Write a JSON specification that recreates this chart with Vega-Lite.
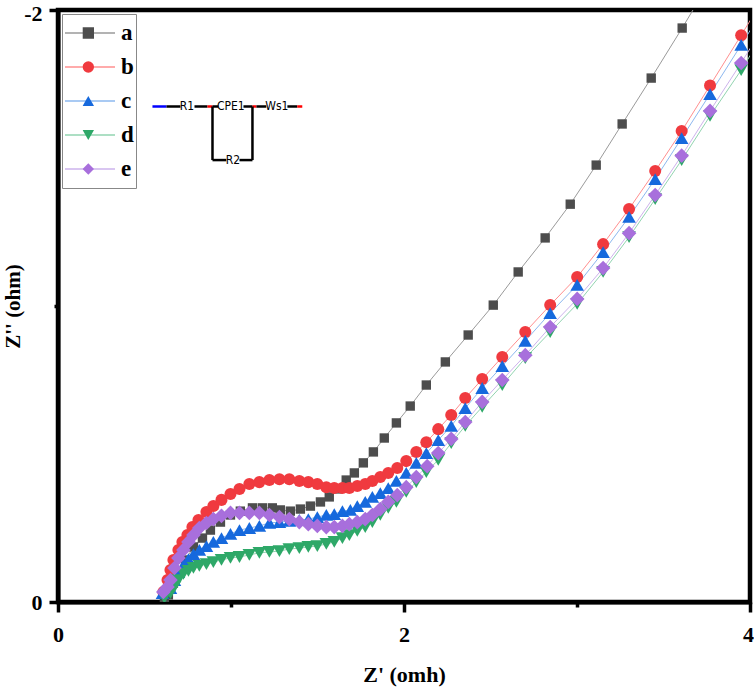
{
  "$schema": "https://vega.github.io/schema/vega-lite/v6.json",
  "description": "Nyquist plot of samples a to e with equivalent circuit inset.",
  "width": 692,
  "height": 592,
  "autosize": {"type": "none"},
  "padding": {"left": 58, "top": 10, "right": 4, "bottom": 89},
  "background": "white",
  "view": {"stroke": "black", "strokeWidth": 4.5},
  "datasets": {
    "curves": [
      {"s":"a","x":0.615,"y":-0.014},{"s":"a","x":0.638,"y":-0.024},{"s":"a","x":0.667,"y":-0.064},{"s":"a","x":0.696,"y":-0.101},{"s":"a","x":0.737,"y":-0.142},{"s":"a","x":0.783,"y":-0.186},{"s":"a","x":0.835,"y":-0.216},{"s":"a","x":0.881,"y":-0.243},{"s":"a","x":0.939,"y":-0.270},{"s":"a","x":0.997,"y":-0.294},{"s":"a","x":1.054,"y":-0.307},{"s":"a","x":1.124,"y":-0.318},{"s":"a","x":1.181,"y":-0.318},{"s":"a","x":1.239,"y":-0.318},{"s":"a","x":1.285,"y":-0.311},{"s":"a","x":1.343,"y":-0.307},{"s":"a","x":1.401,"y":-0.314},{"s":"a","x":1.459,"y":-0.324},{"s":"a","x":1.517,"y":-0.338},{"s":"a","x":1.568,"y":-0.355},{"s":"a","x":1.615,"y":-0.382},{"s":"a","x":1.666,"y":-0.412},{"s":"a","x":1.713,"y":-0.436},{"s":"a","x":1.765,"y":-0.470},{"s":"a","x":1.823,"y":-0.507},{"s":"a","x":1.886,"y":-0.554},{"s":"a","x":1.956,"y":-0.605},{"s":"a","x":2.036,"y":-0.662},{"s":"a","x":2.129,"y":-0.733},{"s":"a","x":2.239,"y":-0.811},{"s":"a","x":2.371,"y":-0.902},{"s":"a","x":2.516,"y":-1.003},{"s":"a","x":2.660,"y":-1.115},{"s":"a","x":2.816,"y":-1.230},{"s":"a","x":2.961,"y":-1.344},{"s":"a","x":3.111,"y":-1.476},{"s":"a","x":3.261,"y":-1.615},{"s":"a","x":3.429,"y":-1.770},{"s":"a","x":3.608,"y":-1.939},{"s":"a","x":3.798,"y":-2.125},
      {"s":"b","x":0.609,"y":-0.034},{"s":"b","x":0.633,"y":-0.074},{"s":"b","x":0.650,"y":-0.108},{"s":"b","x":0.667,"y":-0.142},{"s":"b","x":0.696,"y":-0.176},{"s":"b","x":0.719,"y":-0.203},{"s":"b","x":0.748,"y":-0.226},{"s":"b","x":0.777,"y":-0.253},{"s":"b","x":0.812,"y":-0.277},{"s":"b","x":0.858,"y":-0.304},{"s":"b","x":0.898,"y":-0.324},{"s":"b","x":0.945,"y":-0.345},{"s":"b","x":0.997,"y":-0.365},{"s":"b","x":1.049,"y":-0.382},{"s":"b","x":1.106,"y":-0.399},{"s":"b","x":1.164,"y":-0.405},{"s":"b","x":1.222,"y":-0.412},{"s":"b","x":1.280,"y":-0.415},{"s":"b","x":1.337,"y":-0.415},{"s":"b","x":1.395,"y":-0.409},{"s":"b","x":1.447,"y":-0.405},{"s":"b","x":1.499,"y":-0.399},{"s":"b","x":1.551,"y":-0.388},{"s":"b","x":1.597,"y":-0.385},{"s":"b","x":1.644,"y":-0.385},{"s":"b","x":1.684,"y":-0.385},{"s":"b","x":1.730,"y":-0.392},{"s":"b","x":1.776,"y":-0.399},{"s":"b","x":1.817,"y":-0.409},{"s":"b","x":1.863,"y":-0.422},{"s":"b","x":1.909,"y":-0.436},{"s":"b","x":1.961,"y":-0.453},{"s":"b","x":2.013,"y":-0.476},{"s":"b","x":2.071,"y":-0.507},{"s":"b","x":2.129,"y":-0.540},{"s":"b","x":2.198,"y":-0.584},{"s":"b","x":2.273,"y":-0.632},{"s":"b","x":2.354,"y":-0.689},{"s":"b","x":2.452,"y":-0.753},{"s":"b","x":2.568,"y":-0.828},{"s":"b","x":2.701,"y":-0.912},{"s":"b","x":2.845,"y":-1.003},{"s":"b","x":3.001,"y":-1.098},{"s":"b","x":3.151,"y":-1.209},{"s":"b","x":3.301,"y":-1.328},{"s":"b","x":3.452,"y":-1.456},{"s":"b","x":3.605,"y":-1.591},{"s":"b","x":3.769,"y":-1.745},{"s":"b","x":3.949,"y":-1.915},{"s":"b","x":4.145,"y":-2.101},
      {"s":"c","x":0.604,"y":-0.030},{"s":"c","x":0.650,"y":-0.047},{"s":"c","x":0.673,"y":-0.074},{"s":"c","x":0.696,"y":-0.101},{"s":"c","x":0.725,"y":-0.125},{"s":"c","x":0.754,"y":-0.145},{"s":"c","x":0.783,"y":-0.162},{"s":"c","x":0.817,"y":-0.176},{"s":"c","x":0.858,"y":-0.189},{"s":"c","x":0.898,"y":-0.203},{"s":"c","x":0.945,"y":-0.216},{"s":"c","x":0.997,"y":-0.230},{"s":"c","x":1.049,"y":-0.243},{"s":"c","x":1.106,"y":-0.250},{"s":"c","x":1.164,"y":-0.257},{"s":"c","x":1.222,"y":-0.267},{"s":"c","x":1.280,"y":-0.270},{"s":"c","x":1.337,"y":-0.274},{"s":"c","x":1.395,"y":-0.277},{"s":"c","x":1.447,"y":-0.280},{"s":"c","x":1.499,"y":-0.287},{"s":"c","x":1.551,"y":-0.294},{"s":"c","x":1.597,"y":-0.297},{"s":"c","x":1.644,"y":-0.307},{"s":"c","x":1.690,"y":-0.311},{"s":"c","x":1.730,"y":-0.324},{"s":"c","x":1.776,"y":-0.338},{"s":"c","x":1.817,"y":-0.355},{"s":"c","x":1.863,"y":-0.368},{"s":"c","x":1.909,"y":-0.385},{"s":"c","x":1.956,"y":-0.409},{"s":"c","x":2.013,"y":-0.436},{"s":"c","x":2.071,"y":-0.470},{"s":"c","x":2.129,"y":-0.503},{"s":"c","x":2.198,"y":-0.547},{"s":"c","x":2.273,"y":-0.595},{"s":"c","x":2.354,"y":-0.655},{"s":"c","x":2.452,"y":-0.723},{"s":"c","x":2.568,"y":-0.797},{"s":"c","x":2.701,"y":-0.882},{"s":"c","x":2.845,"y":-0.976},{"s":"c","x":3.001,"y":-1.071},{"s":"c","x":3.151,"y":-1.182},{"s":"c","x":3.301,"y":-1.301},{"s":"c","x":3.452,"y":-1.429},{"s":"c","x":3.605,"y":-1.567},{"s":"c","x":3.769,"y":-1.716},{"s":"c","x":3.949,"y":-1.882},{"s":"c","x":4.145,"y":-2.067},
      {"s":"d","x":0.615,"y":-0.014},{"s":"d","x":0.650,"y":-0.030},{"s":"d","x":0.673,"y":-0.051},{"s":"d","x":0.696,"y":-0.074},{"s":"d","x":0.725,"y":-0.095},{"s":"d","x":0.754,"y":-0.105},{"s":"d","x":0.783,"y":-0.115},{"s":"d","x":0.817,"y":-0.122},{"s":"d","x":0.858,"y":-0.128},{"s":"d","x":0.898,"y":-0.135},{"s":"d","x":0.945,"y":-0.142},{"s":"d","x":0.997,"y":-0.149},{"s":"d","x":1.049,"y":-0.152},{"s":"d","x":1.106,"y":-0.159},{"s":"d","x":1.164,"y":-0.166},{"s":"d","x":1.222,"y":-0.169},{"s":"d","x":1.280,"y":-0.172},{"s":"d","x":1.337,"y":-0.179},{"s":"d","x":1.395,"y":-0.182},{"s":"d","x":1.447,"y":-0.186},{"s":"d","x":1.499,"y":-0.189},{"s":"d","x":1.551,"y":-0.196},{"s":"d","x":1.597,"y":-0.203},{"s":"d","x":1.644,"y":-0.216},{"s":"d","x":1.684,"y":-0.226},{"s":"d","x":1.730,"y":-0.240},{"s":"d","x":1.776,"y":-0.253},{"s":"d","x":1.817,"y":-0.270},{"s":"d","x":1.863,"y":-0.294},{"s":"d","x":1.909,"y":-0.318},{"s":"d","x":1.956,"y":-0.338},{"s":"d","x":2.013,"y":-0.372},{"s":"d","x":2.071,"y":-0.405},{"s":"d","x":2.129,"y":-0.439},{"s":"d","x":2.198,"y":-0.480},{"s":"d","x":2.273,"y":-0.537},{"s":"d","x":2.354,"y":-0.595},{"s":"d","x":2.452,"y":-0.659},{"s":"d","x":2.568,"y":-0.733},{"s":"d","x":2.701,"y":-0.824},{"s":"d","x":2.845,"y":-0.912},{"s":"d","x":3.001,"y":-1.007},{"s":"d","x":3.151,"y":-1.115},{"s":"d","x":3.301,"y":-1.233},{"s":"d","x":3.452,"y":-1.361},{"s":"d","x":3.605,"y":-1.493},{"s":"d","x":3.769,"y":-1.642},{"s":"d","x":3.949,"y":-1.797},{"s":"d","x":4.145,"y":-1.983},
      {"s":"e","x":0.609,"y":-0.034},{"s":"e","x":0.633,"y":-0.051},{"s":"e","x":0.650,"y":-0.074},{"s":"e","x":0.673,"y":-0.115},{"s":"e","x":0.696,"y":-0.149},{"s":"e","x":0.725,"y":-0.176},{"s":"e","x":0.754,"y":-0.203},{"s":"e","x":0.783,"y":-0.226},{"s":"e","x":0.817,"y":-0.250},{"s":"e","x":0.858,"y":-0.267},{"s":"e","x":0.898,"y":-0.280},{"s":"e","x":0.945,"y":-0.291},{"s":"e","x":0.997,"y":-0.301},{"s":"e","x":1.049,"y":-0.301},{"s":"e","x":1.106,"y":-0.301},{"s":"e","x":1.164,"y":-0.301},{"s":"e","x":1.222,"y":-0.294},{"s":"e","x":1.280,"y":-0.287},{"s":"e","x":1.337,"y":-0.280},{"s":"e","x":1.395,"y":-0.270},{"s":"e","x":1.447,"y":-0.263},{"s":"e","x":1.499,"y":-0.257},{"s":"e","x":1.551,"y":-0.253},{"s":"e","x":1.597,"y":-0.253},{"s":"e","x":1.644,"y":-0.257},{"s":"e","x":1.684,"y":-0.263},{"s":"e","x":1.730,"y":-0.270},{"s":"e","x":1.776,"y":-0.280},{"s":"e","x":1.817,"y":-0.294},{"s":"e","x":1.863,"y":-0.314},{"s":"e","x":1.909,"y":-0.338},{"s":"e","x":1.961,"y":-0.361},{"s":"e","x":2.013,"y":-0.388},{"s":"e","x":2.071,"y":-0.422},{"s":"e","x":2.134,"y":-0.459},{"s":"e","x":2.198,"y":-0.503},{"s":"e","x":2.273,"y":-0.551},{"s":"e","x":2.354,"y":-0.608},{"s":"e","x":2.452,"y":-0.676},{"s":"e","x":2.568,"y":-0.750},{"s":"e","x":2.701,"y":-0.834},{"s":"e","x":2.845,"y":-0.929},{"s":"e","x":3.001,"y":-1.024},{"s":"e","x":3.151,"y":-1.128},{"s":"e","x":3.301,"y":-1.246},{"s":"e","x":3.452,"y":-1.375},{"s":"e","x":3.605,"y":-1.508},{"s":"e","x":3.769,"y":-1.659},{"s":"e","x":3.949,"y":-1.821},{"s":"e","x":4.145,"y":-2.007}
    ],
    "wires": [
      {"k":"in","x":0.546,"x2":0.627,"y":-1.674,"y2":-1.674},
      {"k":"wire","x":0.627,"x2":0.708,"y":-1.674,"y2":-1.674},
      {"k":"wire","x":0.789,"x2":0.864,"y":-1.674,"y2":-1.674},
      {"k":"node","x":0.864,"x2":0.893,"y":-1.674,"y2":-1.674},
      {"k":"wire","x":0.893,"x2":0.927,"y":-1.674,"y2":-1.674},
      {"k":"wire","x":1.072,"x2":1.124,"y":-1.674,"y2":-1.674},
      {"k":"node","x":1.124,"x2":1.147,"y":-1.674,"y2":-1.674},
      {"k":"wire","x":1.147,"x2":1.204,"y":-1.674,"y2":-1.674},
      {"k":"wire","x":1.326,"x2":1.383,"y":-1.674,"y2":-1.674},
      {"k":"node","x":1.383,"x2":1.412,"y":-1.674,"y2":-1.674},
      {"k":"wire","x":0.893,"x2":0.893,"y":-1.674,"y2":-1.493},
      {"k":"wire","x":1.124,"x2":1.124,"y":-1.674,"y2":-1.493},
      {"k":"wire","x":0.893,"x2":0.973,"y":-1.493,"y2":-1.493},
      {"k":"wire","x":1.049,"x2":1.124,"y":-1.493,"y2":-1.493}
    ],
    "parts": [
      {"t":"R1","x":0.745,"y":-1.674},
      {"t":"CPE1","x":0.999,"y":-1.674},
      {"t":"Ws1","x":1.265,"y":-1.674},
      {"t":"R2","x":1.011,"y":-1.493}
    ]
  },
  "encoding": {
    "x": {
      "field": "x",
      "type": "quantitative",
      "title": "Z' (omh)",
      "scale": {"domain": [0, 4], "nice": false, "zero": false},
      "axis": {
        "values": [0, 1, 2, 3, 4],
        "grid": false,
        "domainColor": "black",
        "domainWidth": 4,
        "tickColor": "black",
        "tickWidth": 3.5,
        "tickSize": {"condition": {"test": "datum.value == 1 || datum.value == 3", "value": 5}, "value": 10},
        "labelExpr": "datum.value % 2 == 0 ? datum.label : ''",
        "labelOffset": {"condition": {"test": "datum.value == 4", "value": -2}, "value": 0},
        "labelFont": "Liberation Serif",
        "labelFontWeight": "bold",
        "labelFontSize": 22,
        "labelColor": "black",
        "labelPadding": 12,
        "labelFlush": false,
        "labelOverlap": false,
        "titleFont": "Liberation Serif",
        "titleFontWeight": "bold",
        "titleFontSize": 22,
        "titleColor": "black",
        "titlePadding": 19
      }
    },
    "y": {
      "field": "y",
      "type": "quantitative",
      "title": "Z'' (ohm)",
      "scale": {"domain": [0, -2], "nice": false, "zero": false},
      "axis": {
        "values": [0, -1, -2],
        "grid": false,
        "domainColor": "black",
        "domainWidth": 4,
        "tickColor": "black",
        "tickWidth": 3.5,
        "tickSize": {"condition": {"test": "datum.value == -1", "value": 4}, "value": 9},
        "labelExpr": "datum.value == -1 ? '' : toString(datum.value)",
        "labelOffset": {"condition": {"test": "datum.value == -2", "value": 3}, "value": 0},
        "labelFont": "Liberation Serif",
        "labelFontWeight": "bold",
        "labelFontSize": 22,
        "labelColor": "black",
        "labelPadding": 7,
        "labelOverlap": false,
        "titleFont": "Liberation Serif",
        "titleFontWeight": "bold",
        "titleFontSize": 21,
        "titleColor": "black",
        "titlePadding": 0
      }
    }
  },
  "layer": [
    {
      "data": {"name": "curves"},
      "mark": {"type": "line", "strokeWidth": 1, "clip": true},
      "encoding": {
        "stroke": {
          "field": "s",
          "type": "nominal",
          "scale": {"range": ["#9a9a9a", "#ff8f8f", "#8db8ef", "#92d4b0", "#cdb3ec"]},
          "legend": {
            "title": null,
            "orient": "none",
            "legendX": 4,
            "legendY": 4,
            "padding": 2,
            "strokeColor": "#888888",
            "symbolType": "stroke",
            "symbolSize": 2500,
            "symbolStrokeWidth": 1.5,
            "rowPadding": 0,
            "clipHeight": 34,
            "labelOffset": 5,
            "labelFont": "Liberation Serif",
            "labelFontWeight": "bold",
            "labelFontSize": 23,
            "labelColor": "black"
          }
        }
      }
    },
    {
      "data": {"name": "curves"},
      "mark": {"type": "point", "filled": true, "opacity": 1, "strokeWidth": 0, "clip": true},
      "encoding": {
        "fill": {
          "field": "s",
          "type": "nominal",
          "scale": {"domain": ["a", "b", "c", "d", "e"], "range": ["#4d4d4d", "#f03a3f", "#1669dd", "#2ea868", "#a86fdc"]},
          "legend": {
            "title": null,
            "orient": "none",
            "legendX": 22.3,
            "legendY": 4,
            "padding": 2,
            "symbolSize": 130,
            "symbolStrokeWidth": 0,
            "symbolOpacity": 1,
            "rowPadding": 0,
            "clipHeight": 34,
            "labelExpr": "''",
            "labelFontSize": 1
          }
        },
        "shape": {
          "field": "s",
          "type": "nominal",
          "scale": {"domain": ["a", "b", "c", "d", "e"], "range": ["square", "circle", "triangle-up", "triangle-down", "diamond"]},
          "legend": {
            "title": null,
            "orient": "none",
            "legendX": 22.3,
            "legendY": 4,
            "padding": 2,
            "symbolSize": 130,
            "symbolStrokeWidth": 0,
            "symbolOpacity": 1,
            "rowPadding": 0,
            "clipHeight": 34,
            "labelExpr": "''",
            "labelFontSize": 1
          }
        },
        "size": {
          "field": "s",
          "type": "nominal",
          "scale": {"type": "ordinal", "domain": ["a", "b", "c", "d", "e", "f"], "range": [88, 145, 185, 185, 215, 215]},
          "legend": null
        }
      }
    },
    {
      "data": {"name": "wires"},
      "mark": {"type": "rule", "strokeWidth": 2.5},
      "encoding": {
        "x2": {"field": "x2"},
        "y2": {"field": "y2"},
        "color": {
          "field": "k",
          "type": "nominal",
          "scale": {"domain": ["wire", "in", "node"], "range": ["black", "#0000ff", "#ff0000"]},
          "legend": null
        }
      }
    },
    {
      "data": {"name": "parts"},
      "mark": {"type": "text", "font": "DejaVu Sans Condensed", "fontSize": 12, "color": "black"},
      "encoding": {"text": {"field": "t"}}
    }
  ]
}
